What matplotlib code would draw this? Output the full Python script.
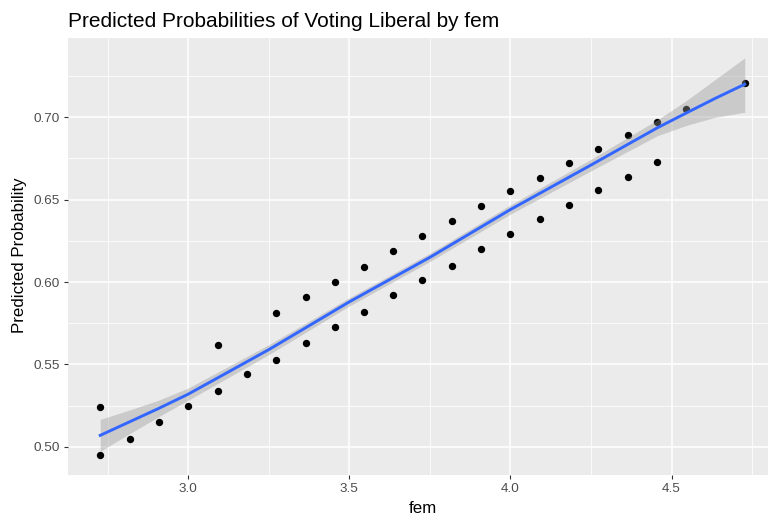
import matplotlib
matplotlib.use("Agg")
import matplotlib.pyplot as plt
from matplotlib.ticker import MultipleLocator, FormatStrFormatter
import numpy as np

plt.rcParams['font.family'] = ['Liberation Sans', 'DejaVu Sans']

# predicted probabilities (fem grid steps of 1/11)
fem = [2.727, 2.727, 2.818, 2.909, 3.000, 3.091, 3.091, 3.182,
       3.273, 3.273, 3.364, 3.364, 3.455, 3.455, 3.545, 3.545,
       3.636, 3.636, 3.727, 3.727, 3.818, 3.818, 3.909, 3.909,
       4.000, 4.000, 4.091, 4.091, 4.182, 4.182, 4.273, 4.273,
       4.364, 4.364, 4.455, 4.455, 4.545, 4.727]
prob = [0.524, 0.495, 0.505, 0.515, 0.525, 0.562, 0.534, 0.544,
        0.581, 0.553, 0.591, 0.563, 0.600, 0.573, 0.609, 0.582,
        0.619, 0.592, 0.628, 0.601, 0.637, 0.610, 0.646, 0.620,
        0.655, 0.629, 0.663, 0.638, 0.672, 0.647, 0.681, 0.656,
        0.689, 0.664, 0.697, 0.673, 0.705, 0.721]

# loess smooth and its 95% band
smooth_fem = [2.727, 2.818, 2.909, 3.000, 3.250, 3.500, 3.750,
              4.000, 4.250, 4.455, 4.545, 4.636, 4.727]
smooth_fit = [0.5070, 0.5152, 0.5234, 0.5320, 0.5590, 0.5880, 0.6150,
              0.6440, 0.6710, 0.6935, 0.7025, 0.7115, 0.7200]
smooth_lo = [0.4973, 0.5080, 0.5184, 0.5283, 0.5560, 0.5855, 0.6125,
             0.6412, 0.6675, 0.6887, 0.6950, 0.7000, 0.7030]
smooth_hi = [0.5167, 0.5224, 0.5284, 0.5357, 0.5620, 0.5905, 0.6175,
             0.6468, 0.6745, 0.6983, 0.7100, 0.7230, 0.7360]

title = 'Predicted Probabilities of Voting Liberal by fem'
xlab = 'fem'
ylab = 'Predicted Probability'

W, H = 768, 515
fig = plt.figure(figsize=(W / 100, H / 100), dpi=100)
ax = fig.add_axes([68 / W, (H - 475) / H, (777 - 68) / W, (475 - 38) / H])
ax.set_facecolor('#EBEBEB')
for sp in ax.spines.values():
    sp.set_visible(False)

ax.scatter(fem, prob, s=28, color='black', linewidths=0, zorder=2)
ax.fill_between(smooth_fem, smooth_lo, smooth_hi, color='#999999', alpha=0.4,
                linewidth=0, zorder=3)
ax.plot(smooth_fem, smooth_fit, color='#3366FF', linewidth=2.1, zorder=4,
        solid_joinstyle='round')
ax.margins(x=0.05, y=0.05)

ax.xaxis.set_major_locator(MultipleLocator(0.5))
ax.xaxis.set_minor_locator(MultipleLocator(0.25))
ax.yaxis.set_major_locator(MultipleLocator(0.05))
ax.yaxis.set_minor_locator(MultipleLocator(0.025))
ax.xaxis.set_major_formatter(FormatStrFormatter('%.1f'))
ax.yaxis.set_major_formatter(FormatStrFormatter('%.2f'))
ax.grid(which='major', color='white', linewidth=1.1)
ax.grid(which='minor', color='white', linewidth=0.55)
ax.set_axisbelow(True)
ax.tick_params(which='major', length=3.1, width=0.8, color='#333333',
               labelsize=9.7, labelcolor='#4D4D4D', pad=2.5)
ax.tick_params(which='minor', length=0)

fig.text(68 / W, 1 - 27 / H, title, fontsize=15, ha='left', va='baseline', color='black')
fig.text(422.5 / W, 1 - 513 / H, xlab, fontsize=12.2, ha='center', va='baseline')
fig.text(19.5 / W, 1 - 255 / H, ylab, fontsize=12.2, ha='center', va='center', rotation=90)

fig.savefig('out.png', dpi=100)
